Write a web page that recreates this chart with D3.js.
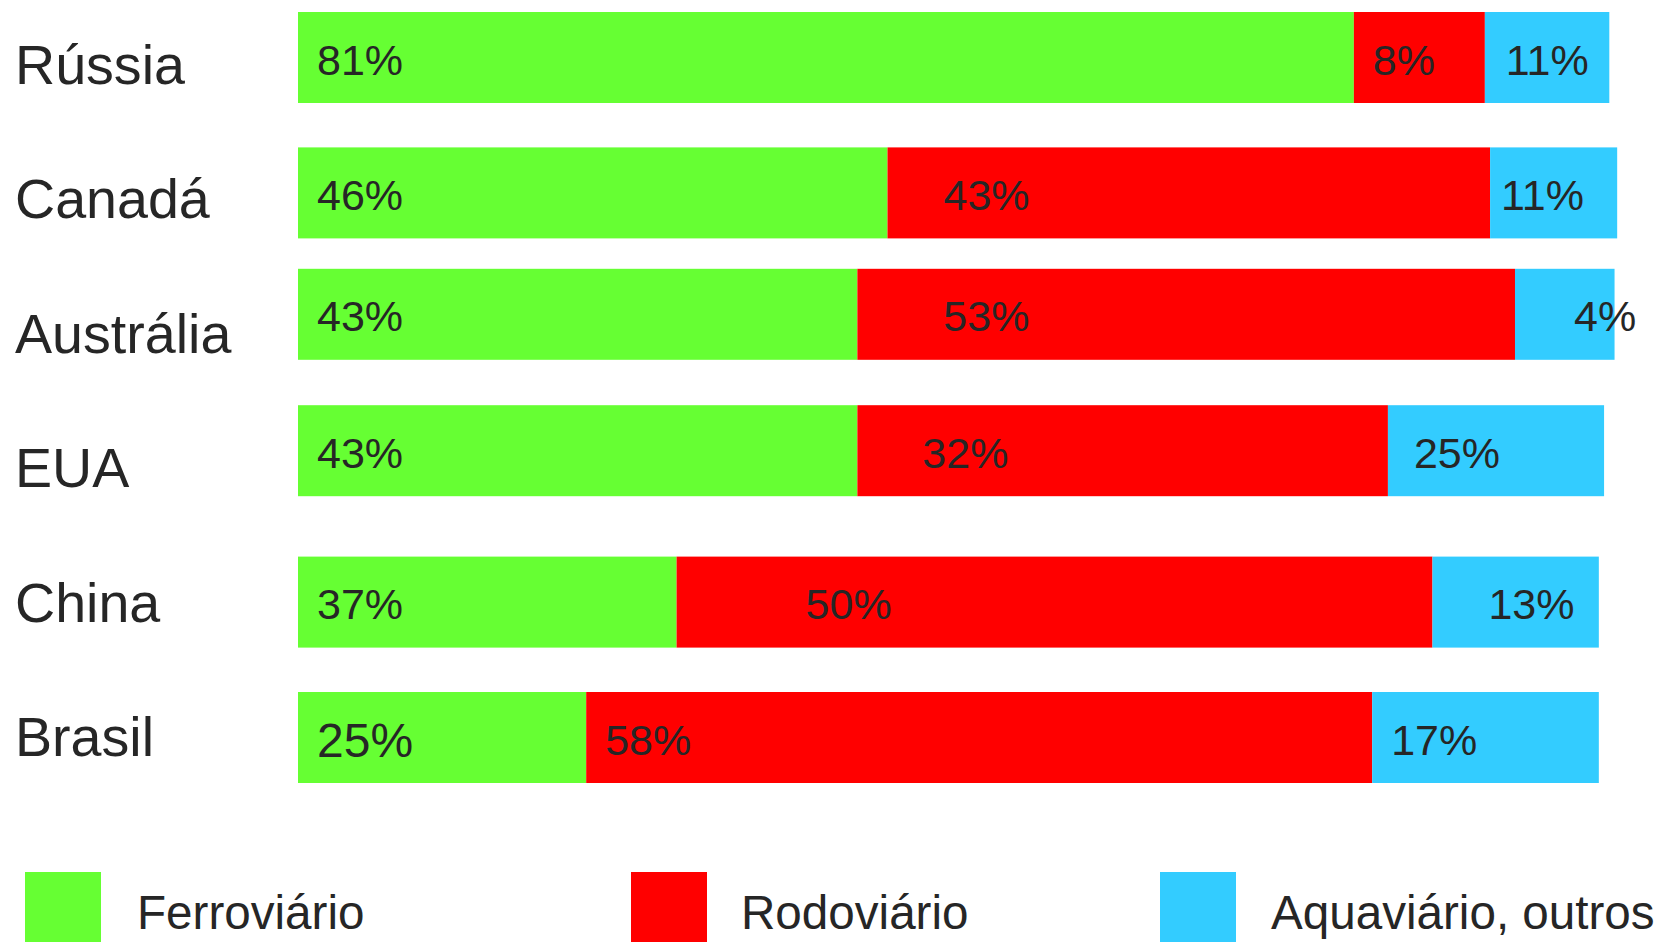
<!DOCTYPE html>
<html>
<head>
<meta charset="utf-8">
<script src="https://cdn.jsdelivr.net/npm/d3@7"></script>
<style>
  html, body { margin: 0; padding: 0; background: #fff; }
  svg { display: block; }
  text { font-family: "Liberation Sans", Arial, sans-serif; fill: #262626; }
</style>
</head>
<body>
<svg id="chart" width="1661" height="942"></svg>
<script>
// ---- data ----
const categories = ["Rússia", "Canadá", "Austrália", "EUA", "China", "Brasil"];
const seriesNames = ["Ferroviário", "Rodoviário", "Aquaviário, outros"];
// labelled shares (%)
const ferroviario = [81, 46, 43, 43, 37, 25];
const rodoviario  = [8, 43, 53, 32, 50, 58];
const aquaviario  = [11, 11, 4, 25, 13, 17];
// segment lengths as drawn in the picture (on a 0-100 scale)
const ferroviarioLen = [80.6, 45.0, 42.7, 42.7, 28.9, 22.0];
const rodoviarioLen  = [10.0, 46.0, 50.2, 40.5, 57.7, 60.0];
const aquaviarioLen  = [9.5, 9.7, 7.6, 16.5, 12.7, 17.3];
const colors = ["#66ff33", "#ff0000", "#33ccff"];

// ---- layout (pixels) ----
const layout = {
  barLeft: 298, barRight: 1608, barHeight: 91,
  labelTop: 84, labelBottom: 756,
  barShift: [-72, -71, -84, -82, -65, -64],
  valueOffset: [[19, 19, 19, 19, 19, 19], [19, 56, 86, 65, 129, 19], [21, 11, 59, 26, 56, 19]],
  valueSize: [[43, 43, 43, 43, 43, 48], [43, 43, 43, 43, 43, 43], [43, 43, 43, 43, 43, 43]],
  legendX: [25, 631, 1160], legendTextX: [137, 741, 1271], legendY: 872, legendSize: 76, legendBase: 929
};

const svg = d3.select("#chart");
const x = d3.scaleLinear().domain([0, 100]).range([layout.barLeft, layout.barRight]);
const yLabel = d3.scalePoint().domain(categories).range([layout.labelTop, layout.labelBottom]);

const lens = [ferroviarioLen, rodoviarioLen, aquaviarioLen];
const vals = [ferroviario, rodoviario, aquaviario];

// category labels
svg.append("g").selectAll("text").data(categories).join("text")
  .attr("x", 15).attr("y", d => yLabel(d))
  .attr("font-size", 55.6).text(d => d);

// bars
const rows = categories.map((c, i) => {
  let acc = 0;
  const top = yLabel(c) + layout.barShift[i];
  return lens.map((L, s) => {
    const seg = { cat: c, i, s, x0: acc, x1: acc + L[i], top, value: vals[s][i] };
    acc += L[i];
    return seg;
  });
}).flat();

svg.append("g").selectAll("rect").data(rows).join("rect")
  .attr("x", d => x(d.x0)).attr("y", d => d.top)
  .attr("width", d => x(d.x1) - x(d.x0)).attr("height", layout.barHeight)
  .attr("fill", d => colors[d.s]);

svg.append("g").selectAll("text").data(rows).join("text")
  .attr("x", d => x(d.x0) + layout.valueOffset[d.s][d.i])
  .attr("y", d => d.top + layout.barHeight / 2 + (d.s === 0 && d.i === 5 ? 19 : 17))
  .attr("font-size", d => layout.valueSize[d.s][d.i])
  .text(d => d.value + "%");

// legend
const lg = svg.append("g");
lg.selectAll("rect").data(seriesNames).join("rect")
  .attr("x", (d, k) => layout.legendX[k]).attr("y", layout.legendY)
  .attr("width", layout.legendSize).attr("height", layout.legendSize)
  .attr("fill", (d, k) => colors[k]);
lg.selectAll("text").data(seriesNames).join("text")
  .attr("x", (d, k) => layout.legendTextX[k]).attr("y", layout.legendBase)
  .attr("font-size", 47.6).text(d => d);
</script>
</body>
</html>
